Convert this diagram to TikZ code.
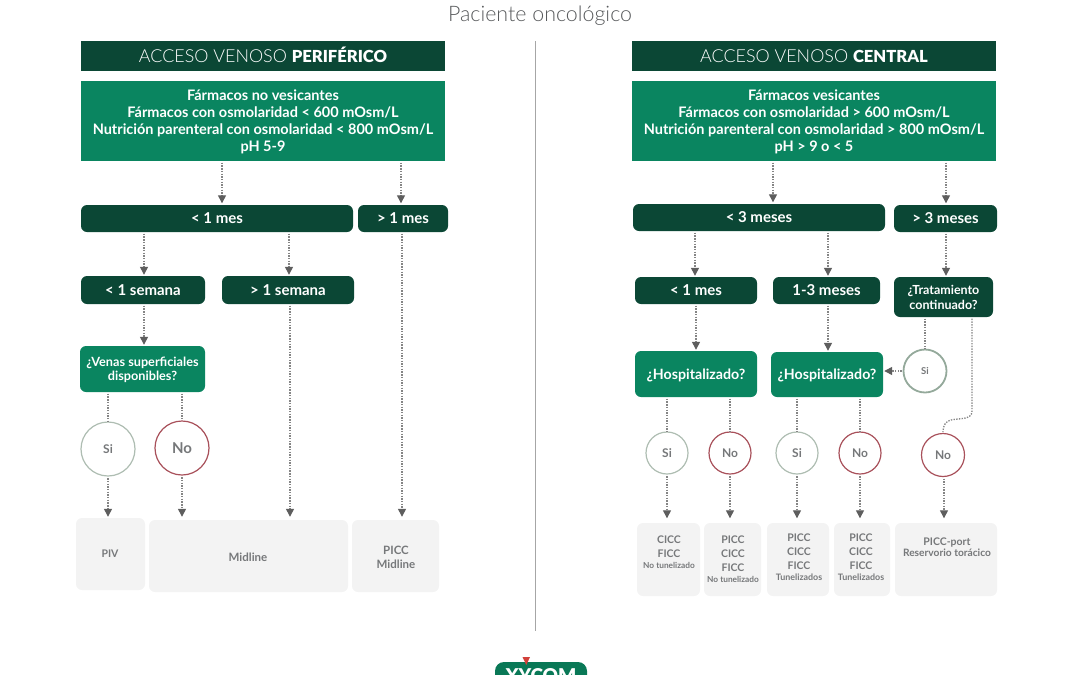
\documentclass[tikz,border=0pt]{standalone}
\usepackage{fontspec}
\setmainfont{Lato}
\newfontfamily\lightfont{Lato Light}
\newfontfamily\blackfont{Lato Black}
\usetikzlibrary{arrows.meta,calc}
\definecolor{dark}{HTML}{0B4735}
\definecolor{midgreen}{HTML}{0A8560}
\definecolor{pale}{HTML}{F3F3F3}
\definecolor{greytext}{HTML}{76787A}
\definecolor{sicol}{HTML}{AEBDB2}
\definecolor{sidark}{HTML}{94A99B}
\definecolor{nocol}{HTML}{A8505A}
\definecolor{linecol}{HTML}{858585}
\definecolor{tipcol}{HTML}{5E5E5E}
\definecolor{logored}{HTML}{D2403A}
\tikzset{
  x=1pt,y=-1pt,
  boxbase/.style={inner sep=0pt,align=center,text depth=0pt,font=\bfseries},
  header/.style={boxbase,fill=dark,text=white,text height=13pt,font=\lightfont\fontsize{17.9}{20}\selectfont},
  cond/.style={boxbase,fill=midgreen,text=white,font=\bfseries\fontsize{14.5}{17}\selectfont},
  bar/.style={boxbase,fill=dark,text=white,rounded corners=6pt,font=\bfseries\fontsize{15}{15}\selectfont},
  ask/.style={boxbase,fill=midgreen,text=white,rounded corners=6pt,font=\bfseries\fontsize{12.7}{14.5}\selectfont},
  askbig/.style={ask,font=\bfseries\fontsize{14.2}{16}\selectfont},
  result/.style={boxbase,fill=pale,rounded corners=6pt},
  restext/.style={boxbase,text=greytext,font=\bfseries\fontsize{10.5}{14}\selectfont},
  yes/.style={circle,draw=sicol,line width=1.2pt,fill=white,inner sep=0pt,text=greytext,font=\bfseries\fontsize{12}{14}\selectfont},
  no/.style={yes,draw=nocol},
  conn/.style={draw=linecol,line width=1.3pt,dash pattern=on 1.4pt off 1.3pt},
  tip/.style={conn,-{Triangle[length=8pt,width=8pt,color=tipcol,fill=tipcol]}},
}
\newcommand{\tbox}[7]{\node[#1,minimum width=#4pt-#3pt,minimum height=#6pt-#5pt] (#2) at ({(#3+#4)/2},{(#5+#6)/2}) {#7};}
\newcommand{\vtip}[4]{\draw[tip,shorten <=1.5pt,shorten >=#4pt] (#1.south -| #3,0) -- (#2.north -| #3,0);}
\newcommand{\vdotted}[3]{\draw[conn,shorten <=1.5pt] (#1.south -| #3,0) -- (#2.north -| #3,0);}
\newcommand{\subtxt}{\fontsize{8.3}{9}\selectfont}
\newcommand{\tuntxt}{\fontsize{8.9}{9}\selectfont}
\begin{document}
\begin{tikzpicture}
\useasboundingbox (0,0) rectangle (1080,675);
\node[inner sep=0pt,text=greytext!75!black,font=\lightfont\fontsize{21.4}{24}\selectfont] (title) at (540,16) {Paciente oncológico};
\coordinate (divtop) at (535.5,41);
\coordinate (divbot) at (535.5,631);
\draw[gray!70,line width=.9pt] (divtop) -- (divbot);

% left
\tbox{header}{lh}{81}{445}{41}{71}{ACCESO VENOSO {\blackfont\fontsize{16.6}{20}\selectfont PERIFÉRICO}}
\tbox{cond}{lc}{81}{445}{81}{161}{Fármacos no vesicantes\\Fármacos con osmolaridad < 600 mOsm/L\\Nutrición parenteral con osmolaridad < 800 mOsm/L\\pH 5-9}
\tbox{bar}{l1}{81}{353}{205}{232}{< 1 mes}
\tbox{bar}{l2}{358}{448}{205}{232}{> 1 mes}
\tbox{bar}{ls1}{81}{205}{276}{304}{< 1 semana}
\tbox{bar}{ls2}{222}{354}{276}{304}{> 1 semana}
\tbox{ask}{lv}{80}{205}{346}{392}{¿Venas superficiales\\disponibles?}
\node[yes,minimum size=54pt] (lsi) at (108,449) {Si};
\node[no,minimum size=54pt,font=\bfseries\fontsize{15}{16}\selectfont] (lno) at (182,448) {No};
\tbox{result}{rpiv}{76}{145}{518}{590}{}
\tbox{result}{rmid}{149}{348}{520}{592}{}
\tbox{result}{rpic}{352}{439}{520}{592}{}
\node[restext] (tpiv) at (110,554) {PIV};
\node[restext,font=\bfseries\fontsize{11.5}{14}\selectfont] (tmid) at (248,557) {Midline};
\node[restext,font=\bfseries\fontsize{11.5}{14}\selectfont] (tpic) at (396,557) {PICC\\Midline};

\vtip{lc}{l1}{222}{1.5}
\vtip{lc}{l2}{401}{1.5}
\vtip{l1}{ls1}{144}{1}
\vtip{l1}{ls2}{289}{1}
\vtip{ls1}{lv}{144}{1}
\vdotted{lv}{lsi}{108}
\vdotted{lv}{lno}{182}
\vtip{lsi}{rpiv}{108}{1}
\vtip{lno}{rmid}{182}{3}
\vtip{ls2}{rmid}{290}{3}
\vtip{l2}{rpic}{402}{3}

% right
\tbox{header}{rh}{632}{996}{41}{71}{ACCESO VENOSO {\blackfont\fontsize{16.6}{20}\selectfont CENTRAL}}
\tbox{cond}{rc}{632}{996}{81}{161}{Fármacos vesicantes\\Fármacos con osmolaridad > 600 mOsm/L\\Nutrición parenteral con osmolaridad > 800 mOsm/L\\pH > 9 o < 5}
\tbox{bar}{r1}{633}{885}{204}{231}{< 3 meses}
\tbox{bar}{r2}{894}{997}{205}{232}{> 3 meses}
\tbox{bar}{rm1}{635}{757}{277}{304}{< 1 mes}
\tbox{bar}{rm2}{773}{880}{277}{304}{1-3 meses}
\tbox{bar,font=\bfseries\fontsize{12.5}{15}\selectfont}{rt}{894}{993}{277}{317}{¿Tratamiento\\continuado?}
\tbox{askbig}{rh1}{635}{757}{351}{397}{¿Hospitalizado?}
\tbox{askbig}{rh2}{771}{883}{352}{397}{¿Hospitalizado?}
\node[yes,minimum size=43pt,draw=sidark,line width=1.8pt,font=\bfseries\fontsize{9.5}{12}\selectfont] (tsi) at (925,371) {Si};
\node[yes,minimum size=42pt] (s1) at (667,453) {Si};
\node[no,minimum size=42pt] (n1) at (730,453) {No};
\node[yes,minimum size=42pt] (s2) at (797,453) {Si};
\node[no,minimum size=42pt] (n2) at (860,453) {No};
\node[no,minimum size=43pt] (n3) at (943,455) {No};
\tbox{result}{b1}{637}{700}{523}{596}{}
\tbox{result}{b2}{704}{761}{523}{596}{}
\tbox{result}{b3}{767}{829}{523}{596}{}
\tbox{result}{b4}{834}{890}{523}{596}{}
\tbox{result}{b5}{895}{997}{523}{596}{}
\node[restext] (t1) at (669,552) {CICC\\FICC\\[-3.5pt]{\subtxt No tunelizado}};
\node[restext] (t2) at (733,559) {PICC\\CICC\\FICC\\[-3pt]{\subtxt No tunelizado}};
\node[restext] (t3) at (799,557) {PICC\\CICC\\FICC\\[-3pt]{\tuntxt Tunelizados}};
\node[restext] (t4) at (861,557) {PICC\\CICC\\FICC\\[-3pt]{\tuntxt Tunelizados}};
\node[restext,font=\bfseries\fontsize{10.5}{12}\selectfont] (t5) at (947,547) {PICC-port\\[-1pt]{\fontsize{10.2}{11}\selectfont Reservorio torácico}};

\vtip{rc}{r1}{773}{1.5}
\vtip{rc}{r2}{946}{1.5}
\vtip{r1}{rm1}{695}{1}
\vtip{r1}{rm2}{828}{1}
\vtip{r2}{rt}{946}{1}
\vtip{rm1}{rh1}{696}{1}
\vtip{rm2}{rh2}{828}{1}
\vdotted{rt}{tsi}{925}
\draw[tip,shorten <=1pt,shorten >=1pt] (tsi.west) -- (tsi.west -| rh2.east);
\vdotted{rh1}{s1}{667}
\vdotted{rh1}{n1}{730}
\vdotted{rh2}{s2}{797}
\vdotted{rh2}{n2}{860}
\coordinate (bendend) at (943,432);
\draw[conn] ($(rt.south -| 972,0)+(0,1.5)$) -- (972,411) .. controls (972,420) and (960,418) .. (951,420) .. controls (946,421) and (943,425) .. (bendend);
\vtip{s1}{b1}{667}{4.5}
\vtip{n1}{b2}{730}{4.5}
\vtip{s2}{b3}{797}{4.5}
\vtip{n2}{b4}{860}{4.5}
\vtip{n3}{b5}{944}{4.5}

% logo
\begin{scope}
\clip (480,640) rectangle (600,675);
\path[fill=midgreen!90!black,rounded corners=9pt] (495,662) rectangle (587,690);
\node[inner sep=0pt,text=white,font=\blackfont\fontsize{19}{22}\selectfont] (logo) at (541,676) {XYCOM};
\end{scope}
\coordinate (lg1) at (522.5,657);
\coordinate (lg2) at (530,657);
\coordinate (lg3) at (526.3,665);
\fill[logored] (lg1) -- (lg2) -- (lg3) -- cycle;
\end{tikzpicture}
\end{document}
